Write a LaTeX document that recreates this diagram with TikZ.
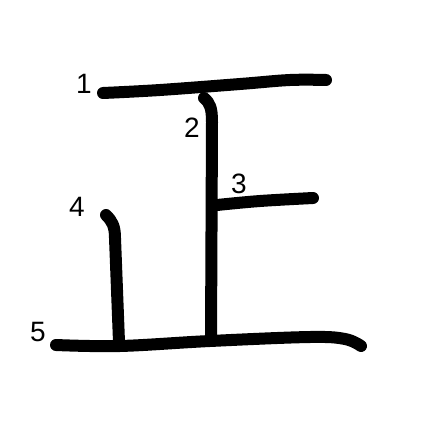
\documentclass[tikz,border=0pt]{standalone}
\usepackage{fontspec}
\setmainfont{Liberation Sans}
\begin{document}
\begin{tikzpicture}[x=1pt,y=-1pt,
  strokeline/.style={line width=12pt,line cap=round,line join=round},
  numlabel/.style={inner sep=0pt,font=\fontsize{28}{28}\selectfont}]
\useasboundingbox[fill=white] (0,0) rectangle (447,447);
% stroke 1
\draw[strokeline] plot[smooth,tension=0.6] coordinates {(103,93) (160,90) (240,84) (290,80) (326,80)};
% stroke 2
\draw[strokeline] (204,98) .. controls (210,103) and (212,108) .. (212,122) -- (211,340);
% stroke 3
\draw[strokeline] plot[smooth,tension=0.6] coordinates {(217,205) (260,201) (313,198)};
% stroke 4
\draw[strokeline] (106,215) .. controls (112,221) and (115,226) .. (115,238) -- (119,342);
% stroke 5
\draw[strokeline] plot[smooth,tension=0.6] coordinates {(56,345) (120,346) (210,341) (310,337) (345,339) (361,346)};
\node[numlabel] (n1) at (84,84) {1};
\node[numlabel] (n2) at (192,128) {2};
\node[numlabel] (n3) at (239,184) {3};
\node[numlabel] (n4) at (77,207) {4};
\node[numlabel] (n5) at (38,332) {5};
\end{tikzpicture}
\end{document}
